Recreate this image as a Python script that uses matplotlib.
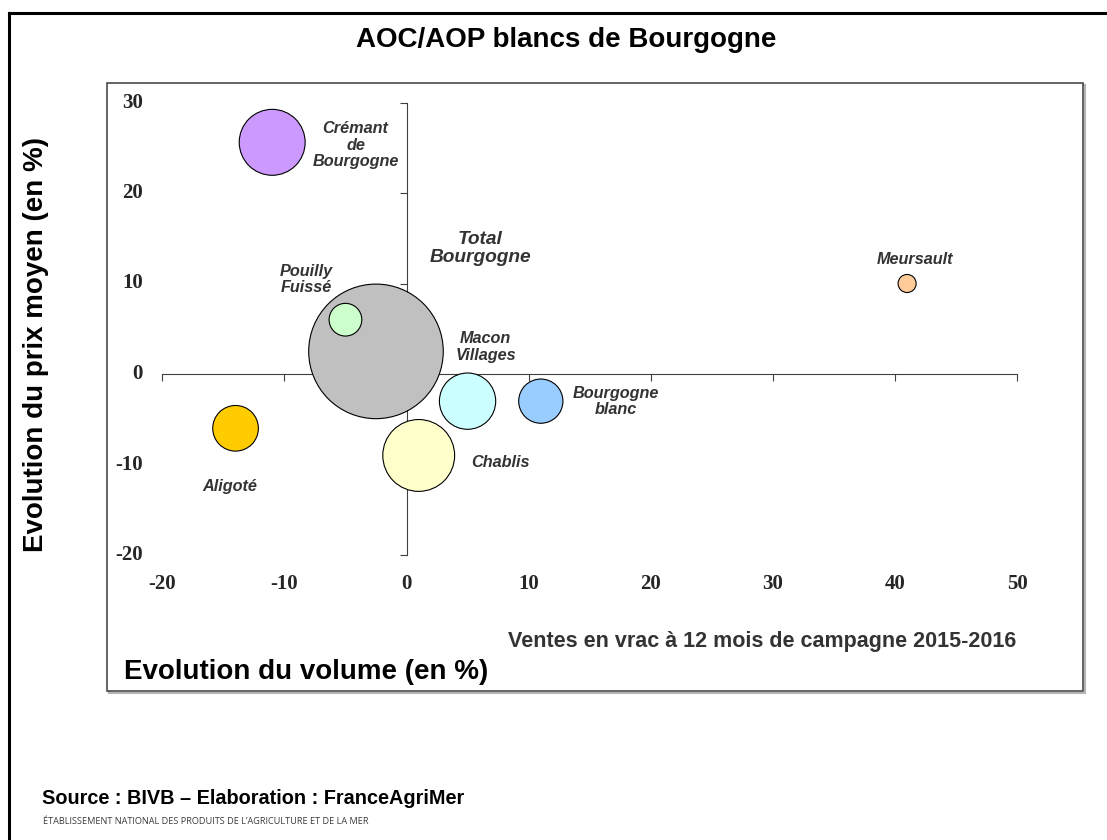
import matplotlib
matplotlib.use("Agg")
import matplotlib.pyplot as plt
import matplotlib.transforms as mtransforms
from matplotlib.patches import Rectangle
from matplotlib.lines import Line2D

# --- data -------------------------------------------------------------
appellations = ["Total\nBourgogne", "Crémant\nde\nBourgogne", "Pouilly\nFuissé",
                "Macon\nVillages", "Bourgogne\nblanc", "Chablis", "Aligoté", "Meursault"]
volume_change = [-2.5, -11, -5, 5, 11, 1, -14, 41]      # % change in volume
price_change = [2.5, 25.6, 6, -3, -3, -9, -6, 10]      # % change in average price
volume_share = [100, 24, 5.9, 17.5, 10.8, 28.5, 11.5, 1.8]  # bubble size (share of volume)
x_ticks = [-20, -10, 0, 10, 20, 30, 40, 50]
y_ticks = [-20, -10, 0, 10, 20, 30]

# --- styling ----------------------------------------------------------
bubble_colors = ["#C0C0C0", "#CC99FF", "#CCFFCC", "#CCFFFF",
                 "#99CCFF", "#FFFFCC", "#FFCC00", "#FFCC99"]
label_offsets = [(75, 74), (60, -2), (-28, 29), (13, 39),
                 (54, 0), (59, -5), (-4, -42), (6, 17)]   # points
label_sizes = [13.8, 11.7, 11.7, 11.7, 11.7, 11.7, 11.7, 11.7]
size_scale = 93.9

W, H = 1107, 840
SANS = "Liberation Sans"
SERIF = "Liberation Serif"


def fx(px):
    return px / W


def fy(py):
    return 1 - py / H


fig = plt.figure(figsize=(W / 100, H / 100), dpi=100)
fig.patch.set_facecolor("white")

# outer frame (left and top edges)
fig.add_artist(Line2D([fx(9), fx(9)], [fy(13), fy(845)], transform=fig.transFigure,
                      color="black", lw=2.2, solid_capstyle="projecting"))
fig.add_artist(Line2D([fx(9), fx(1110)], [fy(13), fy(13)], transform=fig.transFigure,
                      color="black", lw=2.2, solid_capstyle="projecting"))

# chart area box with light shadow
fig.add_artist(Rectangle((fx(108.5), fy(692.5)), fx(1085) - fx(108.5), fy(85.3) - fy(692.5),
                         transform=fig.transFigure, facecolor="none",
                         edgecolor="#b4b4b4", lw=1.5, zorder=-2))
fig.add_artist(Rectangle((fx(106.5), fy(690.5)), fx(1083) - fx(106.5), fy(83.3) - fy(690.5),
                         transform=fig.transFigure, facecolor="white",
                         edgecolor="#3a3a3a", lw=1.1, zorder=-1))

ax = fig.add_axes([fx(162.3), fy(555), (1017 - 162.3) / W, (555 - 102.5) / H])
ax.set_facecolor("none")
ax.set_xlim(-20, 50)
ax.set_ylim(-20, 30)
for side in ("top", "right"):
    ax.spines[side].set_visible(False)
ax.spines["left"].set_position(("data", 0))
ax.spines["bottom"].set_position(("data", 0))
for side in ("left", "bottom"):
    ax.spines[side].set_color("#404040")
    ax.spines[side].set_linewidth(0.8)
ax.set_xticks(x_ticks)
ax.set_yticks(y_ticks)
ax.tick_params(direction="out", length=5, width=0.8, color="#404040",
               labelbottom=False, labelleft=False)

# tick labels sit at the outer edges of the plot area
xt = mtransforms.blended_transform_factory(ax.transData, ax.transAxes)
yt = mtransforms.blended_transform_factory(ax.transAxes, ax.transData)
for v in x_ticks:
    ax.text(v, -0.064, str(v), transform=xt, ha="center", va="center",
            family=SERIF, fontweight="bold", fontsize=15, color="#262626")
for v in y_ticks:
    ax.text(-0.0226, v, str(v), transform=yt, ha="right", va="center",
            family=SERIF, fontweight="bold", fontsize=15, color="#262626")

# bubbles
ax.scatter(volume_change, price_change, s=[v * size_scale for v in volume_share],
           c=bubble_colors, edgecolors="black", linewidths=0.8, zorder=3)

for name, x, y, off, fs in zip(appellations, volume_change, price_change,
                               label_offsets, label_sizes):
    ax.annotate(name, (x, y), xytext=off, textcoords="offset points",
                ha="center", va="center", family=SANS,
                fontstyle="italic", fontweight="bold", fontsize=fs,
                color="#333333", linespacing=1.1, zorder=4)

# titles and notes
fig.text(fx(566), fy(40), "AOC/AOP blancs de Bourgogne", ha="center", va="center",
         family=SANS, fontweight="bold", fontsize=20, color="black")
fig.text(fx(36), fy(345), "Evolution du prix moyen (en %)", ha="center", va="center",
         rotation=90, family=SANS, fontweight="bold", fontsize=20, color="black")
fig.text(fx(124), fy(679), "Evolution du volume (en %)", ha="left", va="baseline",
         family=SANS, fontweight="bold", fontsize=20, color="black")
fig.text(fx(762), fy(642), "Ventes en vrac à 12 mois de campagne 2015-2016",
         ha="center", va="center", family=SANS, fontweight="bold", fontsize=15.5,
         color="#333333")
fig.text(fx(42), fy(798), "Source : BIVB – Elaboration : FranceAgriMer", ha="left",
         va="center", family=SANS, fontweight="bold", fontsize=14.3, color="black")
fig.text(fx(43), fy(821), "ÉTABLISSEMENT NATIONAL DES PRODUITS DE L’AGRICULTURE ET DE LA MER",
         ha="left", va="center", family="Open Sans", fontsize=6.6, color="#3a3a3a")

fig.savefig("out.png", dpi=100)
